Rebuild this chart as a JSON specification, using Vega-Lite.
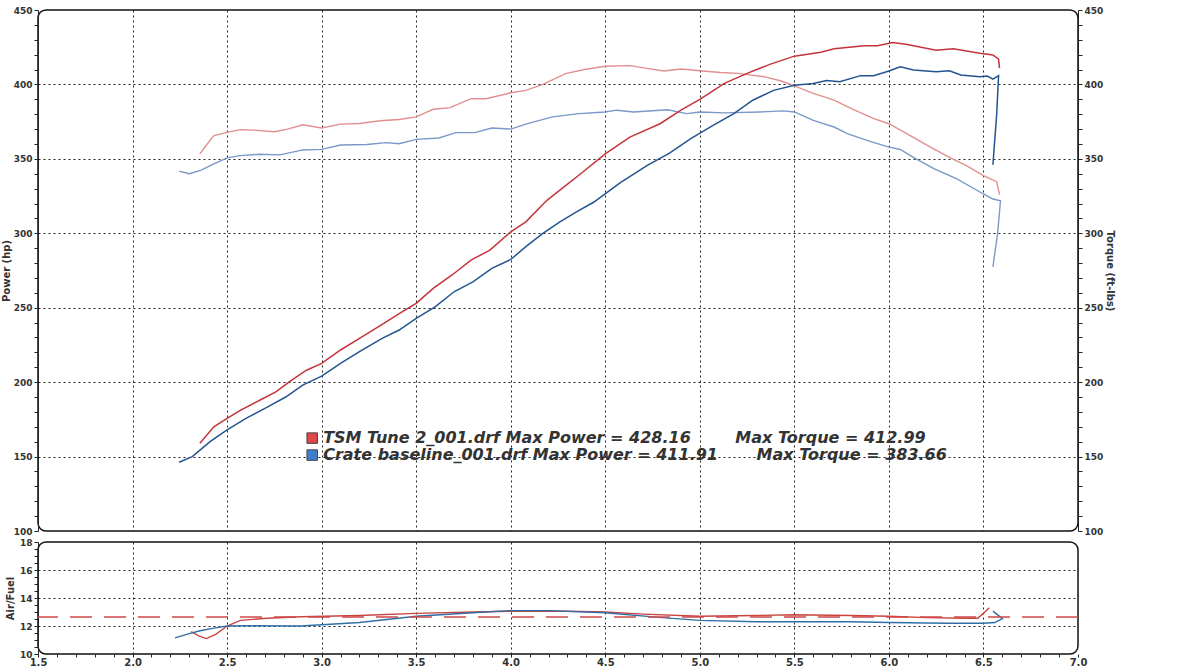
{
  "$schema": "https://vega.github.io/schema/vega-lite/v6.json",
  "padding": {"left": 0, "top": 5, "right": 5, "bottom": 0},
  "background": "white",
  "spacing": 0,
  "config": {
    "view": {"stroke": "#111", "strokeWidth": 1.5, "cornerRadius": 8},
    "axis": {
      "labelFont": "DejaVu Sans", "labelFontWeight": "bold", "labelFontSize": 9, "labelColor": "#333",
      "titleFont": "DejaVu Sans", "titleFontWeight": "bold", "titleFontSize": 10, "titleColor": "#333",
      "domainColor": "#222", "tickColor": "#222", "gridColor": "#222", "gridDash": [2, 3], "gridWidth": 1,
      "labelOverlap": false, "labelFlush": false, "tickSize": 4, "labelPadding": 2
    }
  },
  "datasets": {
    "power": [
      {"run": "TSM", "i": 1, "rpm": 2.356, "value": 159},
      {"run": "TSM", "i": 2, "rpm": 2.43, "value": 170},
      {"run": "TSM", "i": 3, "rpm": 2.5, "value": 175.7},
      {"run": "TSM", "i": 4, "rpm": 2.57, "value": 181},
      {"run": "TSM", "i": 5, "rpm": 2.675, "value": 188},
      {"run": "TSM", "i": 6, "rpm": 2.76, "value": 193.6},
      {"run": "TSM", "i": 7, "rpm": 2.83, "value": 200.3},
      {"run": "TSM", "i": 8, "rpm": 2.92, "value": 208},
      {"run": "TSM", "i": 9, "rpm": 3.0, "value": 212.6},
      {"run": "TSM", "i": 10, "rpm": 3.1, "value": 221.6},
      {"run": "TSM", "i": 11, "rpm": 3.2, "value": 229.4},
      {"run": "TSM", "i": 12, "rpm": 3.31, "value": 238},
      {"run": "TSM", "i": 13, "rpm": 3.41, "value": 246},
      {"run": "TSM", "i": 14, "rpm": 3.5, "value": 252.9},
      {"run": "TSM", "i": 15, "rpm": 3.59, "value": 263},
      {"run": "TSM", "i": 16, "rpm": 3.69, "value": 272},
      {"run": "TSM", "i": 17, "rpm": 3.79, "value": 282},
      {"run": "TSM", "i": 18, "rpm": 3.89, "value": 288.7},
      {"run": "TSM", "i": 19, "rpm": 4.0, "value": 301},
      {"run": "TSM", "i": 20, "rpm": 4.08, "value": 307.7},
      {"run": "TSM", "i": 21, "rpm": 4.19, "value": 322},
      {"run": "TSM", "i": 22, "rpm": 4.28, "value": 331},
      {"run": "TSM", "i": 23, "rpm": 4.37, "value": 340},
      {"run": "TSM", "i": 24, "rpm": 4.5, "value": 353.4},
      {"run": "TSM", "i": 25, "rpm": 4.63, "value": 364.6},
      {"run": "TSM", "i": 26, "rpm": 4.79, "value": 373.6},
      {"run": "TSM", "i": 27, "rpm": 4.9, "value": 382.7},
      {"run": "TSM", "i": 28, "rpm": 5.0, "value": 390},
      {"run": "TSM", "i": 29, "rpm": 5.13, "value": 400.7},
      {"run": "TSM", "i": 30, "rpm": 5.25, "value": 407.4},
      {"run": "TSM", "i": 31, "rpm": 5.37, "value": 413.5},
      {"run": "TSM", "i": 32, "rpm": 5.5, "value": 419},
      {"run": "TSM", "i": 33, "rpm": 5.64, "value": 421.6},
      {"run": "TSM", "i": 34, "rpm": 5.71, "value": 423.9},
      {"run": "TSM", "i": 35, "rpm": 5.87, "value": 426},
      {"run": "TSM", "i": 36, "rpm": 5.94, "value": 426},
      {"run": "TSM", "i": 37, "rpm": 6.02, "value": 428.2},
      {"run": "TSM", "i": 38, "rpm": 6.09, "value": 427},
      {"run": "TSM", "i": 39, "rpm": 6.25, "value": 423},
      {"run": "TSM", "i": 40, "rpm": 6.34, "value": 424},
      {"run": "TSM", "i": 41, "rpm": 6.48, "value": 421},
      {"run": "TSM", "i": 42, "rpm": 6.55, "value": 419.8},
      {"run": "TSM", "i": 43, "rpm": 6.58, "value": 417},
      {"run": "TSM", "i": 44, "rpm": 6.585, "value": 411},
      {"run": "Crate", "i": 1, "rpm": 2.246, "value": 146.2},
      {"run": "Crate", "i": 2, "rpm": 2.316, "value": 150},
      {"run": "Crate", "i": 3, "rpm": 2.41, "value": 160},
      {"run": "Crate", "i": 4, "rpm": 2.5, "value": 168},
      {"run": "Crate", "i": 5, "rpm": 2.6, "value": 175.7},
      {"run": "Crate", "i": 6, "rpm": 2.71, "value": 183},
      {"run": "Crate", "i": 7, "rpm": 2.81, "value": 190},
      {"run": "Crate", "i": 8, "rpm": 2.9, "value": 198},
      {"run": "Crate", "i": 9, "rpm": 3.0, "value": 204},
      {"run": "Crate", "i": 10, "rpm": 3.1, "value": 212.6},
      {"run": "Crate", "i": 11, "rpm": 3.2, "value": 220.5},
      {"run": "Crate", "i": 12, "rpm": 3.32, "value": 229.4},
      {"run": "Crate", "i": 13, "rpm": 3.41, "value": 235},
      {"run": "Crate", "i": 14, "rpm": 3.5, "value": 242.8},
      {"run": "Crate", "i": 15, "rpm": 3.6, "value": 250.6},
      {"run": "Crate", "i": 16, "rpm": 3.7, "value": 260.7},
      {"run": "Crate", "i": 17, "rpm": 3.8, "value": 267.4},
      {"run": "Crate", "i": 18, "rpm": 3.9, "value": 276.4},
      {"run": "Crate", "i": 19, "rpm": 4.0, "value": 282.4},
      {"run": "Crate", "i": 20, "rpm": 4.08, "value": 291},
      {"run": "Crate", "i": 21, "rpm": 4.17, "value": 300},
      {"run": "Crate", "i": 22, "rpm": 4.26, "value": 307.7},
      {"run": "Crate", "i": 23, "rpm": 4.35, "value": 314.5},
      {"run": "Crate", "i": 24, "rpm": 4.44, "value": 321},
      {"run": "Crate", "i": 25, "rpm": 4.58, "value": 334},
      {"run": "Crate", "i": 26, "rpm": 4.72, "value": 345.5},
      {"run": "Crate", "i": 27, "rpm": 4.84, "value": 353.8},
      {"run": "Crate", "i": 28, "rpm": 4.95, "value": 363.5},
      {"run": "Crate", "i": 29, "rpm": 5.07, "value": 372.5},
      {"run": "Crate", "i": 30, "rpm": 5.18, "value": 380.4},
      {"run": "Crate", "i": 31, "rpm": 5.28, "value": 389.4},
      {"run": "Crate", "i": 32, "rpm": 5.39, "value": 396},
      {"run": "Crate", "i": 33, "rpm": 5.5, "value": 399.5},
      {"run": "Crate", "i": 34, "rpm": 5.6, "value": 400.7},
      {"run": "Crate", "i": 35, "rpm": 5.67, "value": 402.7},
      {"run": "Crate", "i": 36, "rpm": 5.74, "value": 401.8},
      {"run": "Crate", "i": 37, "rpm": 5.85, "value": 405.9},
      {"run": "Crate", "i": 38, "rpm": 5.92, "value": 405.9},
      {"run": "Crate", "i": 39, "rpm": 6.0, "value": 409},
      {"run": "Crate", "i": 40, "rpm": 6.06, "value": 411.9},
      {"run": "Crate", "i": 41, "rpm": 6.13, "value": 409.7},
      {"run": "Crate", "i": 42, "rpm": 6.25, "value": 408.6},
      {"run": "Crate", "i": 43, "rpm": 6.32, "value": 409.2},
      {"run": "Crate", "i": 44, "rpm": 6.38, "value": 406.3},
      {"run": "Crate", "i": 45, "rpm": 6.48, "value": 405.2},
      {"run": "Crate", "i": 46, "rpm": 6.52, "value": 405.6},
      {"run": "Crate", "i": 47, "rpm": 6.55, "value": 403.6},
      {"run": "Crate", "i": 48, "rpm": 6.58, "value": 405.9},
      {"run": "Crate", "i": 49, "rpm": 6.57, "value": 380},
      {"run": "Crate", "i": 50, "rpm": 6.55, "value": 346}
    ],
    "torque": [
      {"run": "TSM", "i": 1, "rpm": 2.356, "value": 353.3},
      {"run": "TSM", "i": 2, "rpm": 2.395, "value": 360},
      {"run": "TSM", "i": 3, "rpm": 2.43, "value": 365.6},
      {"run": "TSM", "i": 4, "rpm": 2.5, "value": 367.8},
      {"run": "TSM", "i": 5, "rpm": 2.57, "value": 369.6},
      {"run": "TSM", "i": 6, "rpm": 2.64, "value": 369.3},
      {"run": "TSM", "i": 7, "rpm": 2.75, "value": 368.2},
      {"run": "TSM", "i": 8, "rpm": 2.82, "value": 370},
      {"run": "TSM", "i": 9, "rpm": 2.9, "value": 372.9},
      {"run": "TSM", "i": 10, "rpm": 3.0, "value": 370.7},
      {"run": "TSM", "i": 11, "rpm": 3.1, "value": 373.3},
      {"run": "TSM", "i": 12, "rpm": 3.2, "value": 373.8},
      {"run": "TSM", "i": 13, "rpm": 3.31, "value": 375.6},
      {"run": "TSM", "i": 14, "rpm": 3.41, "value": 376.4},
      {"run": "TSM", "i": 15, "rpm": 3.5, "value": 378.2},
      {"run": "TSM", "i": 16, "rpm": 3.59, "value": 383.3},
      {"run": "TSM", "i": 17, "rpm": 3.68, "value": 384.4},
      {"run": "TSM", "i": 18, "rpm": 3.79, "value": 390.4},
      {"run": "TSM", "i": 19, "rpm": 3.87, "value": 390.4},
      {"run": "TSM", "i": 20, "rpm": 4.0, "value": 394.4},
      {"run": "TSM", "i": 21, "rpm": 4.08, "value": 396},
      {"run": "TSM", "i": 22, "rpm": 4.17, "value": 400},
      {"run": "TSM", "i": 23, "rpm": 4.29, "value": 407.3},
      {"run": "TSM", "i": 24, "rpm": 4.39, "value": 410},
      {"run": "TSM", "i": 25, "rpm": 4.5, "value": 412.2},
      {"run": "TSM", "i": 26, "rpm": 4.63, "value": 412.6},
      {"run": "TSM", "i": 27, "rpm": 4.72, "value": 410.8},
      {"run": "TSM", "i": 28, "rpm": 4.81, "value": 409},
      {"run": "TSM", "i": 29, "rpm": 4.9, "value": 410.4},
      {"run": "TSM", "i": 30, "rpm": 5.0, "value": 409.2},
      {"run": "TSM", "i": 31, "rpm": 5.11, "value": 408},
      {"run": "TSM", "i": 32, "rpm": 5.2, "value": 407.4},
      {"run": "TSM", "i": 33, "rpm": 5.34, "value": 405.2},
      {"run": "TSM", "i": 34, "rpm": 5.43, "value": 402.3},
      {"run": "TSM", "i": 35, "rpm": 5.5, "value": 399},
      {"run": "TSM", "i": 36, "rpm": 5.6, "value": 394},
      {"run": "TSM", "i": 37, "rpm": 5.71, "value": 389.4},
      {"run": "TSM", "i": 38, "rpm": 5.81, "value": 383.3},
      {"run": "TSM", "i": 39, "rpm": 5.92, "value": 377},
      {"run": "TSM", "i": 40, "rpm": 6.0, "value": 373.6},
      {"run": "TSM", "i": 41, "rpm": 6.08, "value": 368},
      {"run": "TSM", "i": 42, "rpm": 6.22, "value": 357.9},
      {"run": "TSM", "i": 43, "rpm": 6.32, "value": 351},
      {"run": "TSM", "i": 44, "rpm": 6.41, "value": 345.5},
      {"run": "TSM", "i": 45, "rpm": 6.5, "value": 338.7},
      {"run": "TSM", "i": 46, "rpm": 6.57, "value": 334.7},
      {"run": "TSM", "i": 47, "rpm": 6.585, "value": 326},
      {"run": "Crate", "i": 1, "rpm": 2.246, "value": 341.8},
      {"run": "Crate", "i": 2, "rpm": 2.3, "value": 340},
      {"run": "Crate", "i": 3, "rpm": 2.36, "value": 342.2},
      {"run": "Crate", "i": 4, "rpm": 2.43, "value": 346.7},
      {"run": "Crate", "i": 5, "rpm": 2.5, "value": 350.7},
      {"run": "Crate", "i": 6, "rpm": 2.57, "value": 352.2},
      {"run": "Crate", "i": 7, "rpm": 2.675, "value": 353.1},
      {"run": "Crate", "i": 8, "rpm": 2.78, "value": 352.7},
      {"run": "Crate", "i": 9, "rpm": 2.9, "value": 356},
      {"run": "Crate", "i": 10, "rpm": 3.0, "value": 356.4},
      {"run": "Crate", "i": 11, "rpm": 3.1, "value": 359.3},
      {"run": "Crate", "i": 12, "rpm": 3.24, "value": 359.6},
      {"run": "Crate", "i": 13, "rpm": 3.34, "value": 360.9},
      {"run": "Crate", "i": 14, "rpm": 3.41, "value": 360.2},
      {"run": "Crate", "i": 15, "rpm": 3.5, "value": 363.1},
      {"run": "Crate", "i": 16, "rpm": 3.62, "value": 364},
      {"run": "Crate", "i": 17, "rpm": 3.71, "value": 367.6},
      {"run": "Crate", "i": 18, "rpm": 3.81, "value": 367.6},
      {"run": "Crate", "i": 19, "rpm": 3.9, "value": 370.7},
      {"run": "Crate", "i": 20, "rpm": 4.0, "value": 370},
      {"run": "Crate", "i": 21, "rpm": 4.08, "value": 373.3},
      {"run": "Crate", "i": 22, "rpm": 4.22, "value": 378.2},
      {"run": "Crate", "i": 23, "rpm": 4.36, "value": 380.4},
      {"run": "Crate", "i": 24, "rpm": 4.5, "value": 381.5},
      {"run": "Crate", "i": 25, "rpm": 4.56, "value": 382.7},
      {"run": "Crate", "i": 26, "rpm": 4.65, "value": 381.5},
      {"run": "Crate", "i": 27, "rpm": 4.83, "value": 383},
      {"run": "Crate", "i": 28, "rpm": 4.93, "value": 380.4},
      {"run": "Crate", "i": 29, "rpm": 5.0, "value": 381.5},
      {"run": "Crate", "i": 30, "rpm": 5.13, "value": 380.9},
      {"run": "Crate", "i": 31, "rpm": 5.32, "value": 381.5},
      {"run": "Crate", "i": 32, "rpm": 5.44, "value": 382.2},
      {"run": "Crate", "i": 33, "rpm": 5.5, "value": 381.5},
      {"run": "Crate", "i": 34, "rpm": 5.6, "value": 375.9},
      {"run": "Crate", "i": 35, "rpm": 5.71, "value": 371.4},
      {"run": "Crate", "i": 36, "rpm": 5.78, "value": 366.9},
      {"run": "Crate", "i": 37, "rpm": 5.9, "value": 361.7},
      {"run": "Crate", "i": 38, "rpm": 6.0, "value": 357.9},
      {"run": "Crate", "i": 39, "rpm": 6.06, "value": 356.3},
      {"run": "Crate", "i": 40, "rpm": 6.13, "value": 351},
      {"run": "Crate", "i": 41, "rpm": 6.24, "value": 343.2},
      {"run": "Crate", "i": 42, "rpm": 6.36, "value": 336.5},
      {"run": "Crate", "i": 43, "rpm": 6.5, "value": 326.4},
      {"run": "Crate", "i": 44, "rpm": 6.55, "value": 323},
      {"run": "Crate", "i": 45, "rpm": 6.59, "value": 321.8},
      {"run": "Crate", "i": 46, "rpm": 6.575, "value": 300},
      {"run": "Crate", "i": 47, "rpm": 6.55, "value": 277.5}
    ],
    "afr": [
      {"run": "TSM", "i": 1, "rpm": 2.31, "value": 11.6},
      {"run": "TSM", "i": 2, "rpm": 2.35, "value": 11.3},
      {"run": "TSM", "i": 3, "rpm": 2.39, "value": 11.1},
      {"run": "TSM", "i": 4, "rpm": 2.44, "value": 11.4},
      {"run": "TSM", "i": 5, "rpm": 2.5, "value": 12.0},
      {"run": "TSM", "i": 6, "rpm": 2.57, "value": 12.4},
      {"run": "TSM", "i": 7, "rpm": 2.71, "value": 12.55},
      {"run": "TSM", "i": 8, "rpm": 2.89, "value": 12.66},
      {"run": "TSM", "i": 9, "rpm": 3.2, "value": 12.75},
      {"run": "TSM", "i": 10, "rpm": 3.5, "value": 12.9},
      {"run": "TSM", "i": 11, "rpm": 3.8, "value": 13.0},
      {"run": "TSM", "i": 12, "rpm": 4.0, "value": 13.05},
      {"run": "TSM", "i": 13, "rpm": 4.3, "value": 13.05},
      {"run": "TSM", "i": 14, "rpm": 4.5, "value": 13.0},
      {"run": "TSM", "i": 15, "rpm": 4.7, "value": 12.85},
      {"run": "TSM", "i": 16, "rpm": 5.0, "value": 12.7},
      {"run": "TSM", "i": 17, "rpm": 5.3, "value": 12.75},
      {"run": "TSM", "i": 18, "rpm": 5.5, "value": 12.8},
      {"run": "TSM", "i": 19, "rpm": 5.8, "value": 12.75},
      {"run": "TSM", "i": 20, "rpm": 6.0, "value": 12.7},
      {"run": "TSM", "i": 21, "rpm": 6.2, "value": 12.6},
      {"run": "TSM", "i": 22, "rpm": 6.4, "value": 12.55},
      {"run": "TSM", "i": 23, "rpm": 6.47, "value": 12.55},
      {"run": "TSM", "i": 24, "rpm": 6.5, "value": 12.9},
      {"run": "TSM", "i": 25, "rpm": 6.53, "value": 13.3},
      {"run": "Crate", "i": 1, "rpm": 2.225, "value": 11.15},
      {"run": "Crate", "i": 2, "rpm": 2.3, "value": 11.45},
      {"run": "Crate", "i": 3, "rpm": 2.357, "value": 11.66},
      {"run": "Crate", "i": 4, "rpm": 2.43, "value": 11.85},
      {"run": "Crate", "i": 5, "rpm": 2.5, "value": 12.0},
      {"run": "Crate", "i": 6, "rpm": 2.62, "value": 12.02},
      {"run": "Crate", "i": 7, "rpm": 2.89, "value": 12.0},
      {"run": "Crate", "i": 8, "rpm": 3.2, "value": 12.25},
      {"run": "Crate", "i": 9, "rpm": 3.5, "value": 12.7},
      {"run": "Crate", "i": 10, "rpm": 3.8, "value": 12.95},
      {"run": "Crate", "i": 11, "rpm": 4.0, "value": 13.1},
      {"run": "Crate", "i": 12, "rpm": 4.2, "value": 13.1},
      {"run": "Crate", "i": 13, "rpm": 4.5, "value": 12.95},
      {"run": "Crate", "i": 14, "rpm": 4.8, "value": 12.6},
      {"run": "Crate", "i": 15, "rpm": 5.0, "value": 12.4},
      {"run": "Crate", "i": 16, "rpm": 5.3, "value": 12.3},
      {"run": "Crate", "i": 17, "rpm": 5.5, "value": 12.3},
      {"run": "Crate", "i": 18, "rpm": 5.8, "value": 12.3},
      {"run": "Crate", "i": 19, "rpm": 6.0, "value": 12.25},
      {"run": "Crate", "i": 20, "rpm": 6.3, "value": 12.2},
      {"run": "Crate", "i": 21, "rpm": 6.5, "value": 12.2},
      {"run": "Crate", "i": 22, "rpm": 6.56, "value": 12.25},
      {"run": "Crate", "i": 23, "rpm": 6.6, "value": 12.53},
      {"run": "Crate", "i": 24, "rpm": 6.57, "value": 12.85},
      {"run": "Crate", "i": 25, "rpm": 6.55, "value": 13.06}
    ],
    "target": [{"value": 12.65}],
    "legend": [
      {"run": "TSM", "power": "TSM Tune 2_001.drf Max Power = 428.16", "torque": "Max Torque = 412.99"},
      {"run": "Crate", "power": "Crate baseline_001.drf Max Power = 411.91", "torque": "Max Torque = 383.66"}
    ]
  },
  "vconcat": [
    {
      "width": 1040,
      "height": 521,
      "layer": [
        {
          "data": {"name": "torque"},
          "mark": {"type": "line", "strokeWidth": 1.4},
          "encoding": {
            "x": {"field": "rpm", "type": "quantitative", "scale": {"domain": [1.5, 7.0], "nice": false, "zero": false},
                  "axis": {"title": null, "labels": false, "ticks": false, "domain": false, "grid": true, "labelPadding": 0, "values": [2.0, 2.5, 3.0, 3.5, 4.0, 4.5, 5.0, 5.5, 6.0, 6.5]}},
            "y": {"field": "value", "type": "quantitative", "scale": {"domain": [100, 450], "nice": false, "zero": false},
                  "axis": {"orient": "right", "title": "Torque (ft-lbs)", "titlePadding": 2, "grid": false, "labelOverlap": false,
                           "values": [100,110,120,130,140,150,160,170,180,190,200,210,220,230,240,250,260,270,280,290,300,310,320,330,340,350,360,370,380,390,400,410,420,430,440,450],
                           "labelExpr": "datum.value % 50 === 0 ? datum.label : ''"}},
            "color": {"field": "run", "type": "nominal", "scale": {"domain": ["TSM", "Crate"], "range": ["#e0908e", "#7a98c8"]}, "legend": null},
            "detail": {"field": "run"},
            "order": {"field": "i", "type": "quantitative"}
          }
        },
        {
          "data": {"name": "power"},
          "mark": {"type": "line", "strokeWidth": 1.5},
          "encoding": {
            "x": {"field": "rpm", "type": "quantitative"},
            "y": {"field": "value", "type": "quantitative", "scale": {"domain": [100, 450], "nice": false, "zero": false},
                  "axis": {"orient": "left", "title": "Power (hp)", "titlePadding": 2, "grid": true, "labelOverlap": false,
                           "values": [100,110,120,130,140,150,160,170,180,190,200,210,220,230,240,250,260,270,280,290,300,310,320,330,340,350,360,370,380,390,400,410,420,430,440,450],
                           "labelExpr": "datum.value % 50 === 0 ? datum.label : ''",
                           "gridOpacity": {"condition": {"test": "datum.value % 50 === 0 && datum.value > 100 && datum.value < 450", "value": 1}, "value": 0}}},
            "stroke": {"field": "run", "type": "nominal", "scale": {"domain": ["TSM", "Crate"], "range": ["#c4343a", "#22558f"]}, "legend": null},
            "detail": {"field": "run"},
            "order": {"field": "i", "type": "quantitative"}
          }
        },
        {
          "data": {"name": "legend"},
          "transform": [{"filter": "datum.run === 'TSM'"}],
          "layer": [
            {
              "mark": {"type": "point", "shape": "square", "size": 110, "filled": true, "stroke": "#444", "strokeWidth": 1, "opacity": 1, "fill": "#e04848"},
              "encoding": {"x": {"datum": 2.95, "type": "quantitative"}}
            },
            {
              "mark": {"type": "text", "align": "left", "baseline": "middle", "font": "DejaVu Sans", "fontWeight": "bold", "fontStyle": "italic", "fontSize": 16, "color": "#333"},
              "encoding": {"x": {"datum": 3.008, "type": "quantitative"}, "text": {"field": "power"}}
            },
            {
              "mark": {"type": "text", "align": "left", "baseline": "middle", "font": "DejaVu Sans", "fontWeight": "bold", "fontStyle": "italic", "fontSize": 16, "color": "#333"},
              "encoding": {"x": {"datum": 5.188, "type": "quantitative"}, "text": {"field": "torque"}}
            }
          ],
          "encoding": {
            "y": {"datum": 162.4, "type": "quantitative", "scale": {"domain": [100, 450], "nice": false, "zero": false}, "axis": null}
          }
        },
        {
          "data": {"name": "legend"},
          "transform": [{"filter": "datum.run === 'Crate'"}],
          "layer": [
            {
              "mark": {"type": "point", "shape": "square", "size": 110, "filled": true, "stroke": "#444", "strokeWidth": 1, "opacity": 1, "fill": "#3f7fd0"},
              "encoding": {"x": {"datum": 2.95, "type": "quantitative"}}
            },
            {
              "mark": {"type": "text", "align": "left", "baseline": "middle", "font": "DejaVu Sans", "fontWeight": "bold", "fontStyle": "italic", "fontSize": 16, "color": "#333"},
              "encoding": {"x": {"datum": 3.008, "type": "quantitative"}, "text": {"field": "power"}}
            },
            {
              "mark": {"type": "text", "align": "left", "baseline": "middle", "font": "DejaVu Sans", "fontWeight": "bold", "fontStyle": "italic", "fontSize": 16, "color": "#333"},
              "encoding": {"x": {"datum": 5.3, "type": "quantitative"}, "text": {"field": "torque"}}
            }
          ],
          "encoding": {
            "y": {"datum": 151, "type": "quantitative", "scale": {"domain": [100, 450], "nice": false, "zero": false}, "axis": null}
          }
        }
      ],
      "resolve": {"scale": {"y": "independent", "color": "independent", "stroke": "independent"}}
    },
    {
      "width": 1040,
      "height": 112,
      "encoding": {
        "y": {"field": "value", "type": "quantitative", "scale": {"domain": [10, 18], "nice": false, "zero": false},
              "axis": {"title": "Air/Fuel", "titlePadding": 4, "grid": true, "labelOverlap": false,
                       "values": [10, 10.5, 11, 11.5, 12, 12.5, 13, 13.5, 14, 14.5, 15, 15.5, 16, 16.5, 17, 17.5, 18],
                       "labelExpr": "datum.value % 2 === 0 ? format(datum.value, 'd') : ''",
                       "gridOpacity": {"condition": {"test": "datum.value % 2 === 0 && datum.value > 10 && datum.value < 18", "value": 1}, "value": 0}}}
      },
      "layer": [
        {
          "data": {"name": "afr"},
          "mark": {"type": "line", "strokeWidth": 1.4},
          "encoding": {
            "x": {"field": "rpm", "type": "quantitative", "scale": {"domain": [1.5, 7.0], "nice": false, "zero": false},
                  "axis": {"title": null, "grid": true, "domain": false, "labelFontSize": 10, "labelPadding": 0, "tickSize": 3, "labelOverlap": false,
                           "values": [1.5,1.6,1.7,1.8,1.9,2.0,2.1,2.2,2.3,2.4,2.5,2.6,2.7,2.8,2.9,3.0,3.1,3.2,3.3,3.4,3.5,3.6,3.7,3.8,3.9,4.0,4.1,4.2,4.3,4.4,4.5,4.6,4.7,4.8,4.9,5.0,5.1,5.2,5.3,5.4,5.5,5.6,5.7,5.8,5.9,6.0,6.1,6.2,6.3,6.4,6.5,6.6,6.7,6.8,6.9,7.0],
                           "labelExpr": "abs(datum.value * 2 - round(datum.value * 2)) < 0.01 ? format(datum.value, '.1f') : ''",
                           "gridOpacity": {"condition": {"test": "abs(datum.value * 2 - round(datum.value * 2)) < 0.01 && datum.value > 1.6 && datum.value < 6.9", "value": 1}, "value": 0}}},
            "color": {"field": "run", "type": "nominal", "scale": {"domain": ["TSM", "Crate"], "range": ["#c8443f", "#2f6fa6"]}, "legend": null},
            "detail": {"field": "run"},
            "order": {"field": "i", "type": "quantitative"}
          }
        },
        {
          "data": {"name": "target"},
          "mark": {"type": "rule", "color": "#d04848", "strokeWidth": 1.5, "strokeDash": [22, 12]},
          "encoding": {}
        }
      ]
    }
  ]
}
